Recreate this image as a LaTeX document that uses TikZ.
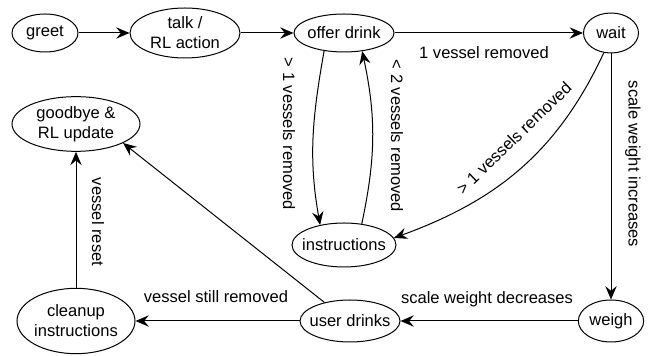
\documentclass[tikz,border=0pt]{standalone}
\usepackage{fontspec}
\setmainfont{Liberation Sans}
\usepackage{tikz}
\usetikzlibrary{shapes.geometric, arrows.meta}

\tikzset{
  state/.style={draw, ellipse, line width=0.75pt, inner xsep=-8pt, inner ysep=-4pt,
    align=center, font=\fontsize{12.4}{15}\selectfont},
  lbl/.style={inner sep=0pt, font=\fontsize{12.4}{15}\selectfont},
  trans/.style={-{Stealth[length=10pt, width=8.5pt, inset=3.5pt]}, line width=0.75pt},
}

\begin{document}
\begin{tikzpicture}[x=0.75pt, y=0.75pt]
\useasboundingbox (0,0) rectangle (650,356);
% states
\node[state, minimum width=49.5pt, minimum height=28.5pt] (greet) at (45,323) {greet};
\node[state, minimum width=82.5pt, minimum height=37.5pt] (talk) at (185,323) {talk /\\RL action};
\node[state, minimum width=75pt, minimum height=28.5pt] (offer) at (344,323) {offer drink};
\node[state, minimum width=41.25pt, minimum height=30pt] (wait) at (611,323) {wait};
\node[state, minimum width=96pt, minimum height=41pt] (goodbye) at (76,232) {goodbye \&\\RL update};
\node[state, minimum width=78pt, minimum height=33pt] (instr) at (344,111) {instructions};
\node[state, minimum width=88.5pt, minimum height=49pt] (cleanup) at (76,35) {cleanup\\instructions};
\node[state, minimum width=75pt, minimum height=31.5pt] (user) at (350,35) {user drinks};
\node[state, minimum width=49pt, minimum height=31.5pt] (weigh) at (611,35) {weigh};
% transitions
\path[trans]
(greet) edge (talk)
(talk) edge (offer)
(offer) edge (wait)
(offer.222) edge[out=260, in=100] (instr.140)
(instr.50) edge[out=78, in=282] (offer.315)
(wait.250) edge[out=245, in=20] (instr.8)
(wait) edge (weigh)
(weigh) edge (user)
(user) edge (cleanup)
(cleanup) edge (goodbye)
(user.144) edge (goodbye.-22);
% labels
\node[lbl] (lremoved) at (484,303) {1 vessel removed};
\node[lbl, rotate=-90] (lmore) at (289,222) {> 1 vessels removed};
\node[lbl, rotate=-90] (lless) at (397,220) {< 2 vessels removed};
\node[lbl, rotate=44] (lwait) at (514,218) {> 1 vessels removed};
\node[lbl, rotate=-90] (lincr) at (633,192) {scale weight increases};
\node[lbl, rotate=-90] (lreset) at (98,134) {vessel reset};
\node[lbl] (lstill) at (216,59) {vessel still removed};
\node[lbl] (ldecr) at (487,57) {scale weight decreases};
\end{tikzpicture}
\end{document}
